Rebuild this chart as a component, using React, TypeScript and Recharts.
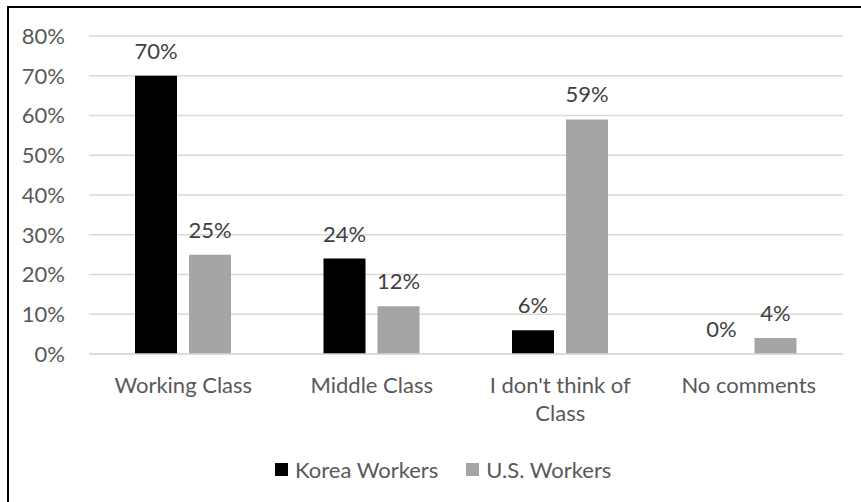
import React from 'react';
import { BarChart, Bar, XAxis, YAxis, CartesianGrid, LabelList } from 'recharts';

const categories = ['Working Class', 'Middle Class', "I don't think of Class", 'No comments'];
// how each category label wraps under the axis
const categoryLines = [['Working Class'], ['Middle Class'], ["I don't think of", 'Class'], ['No comments']];
const koreaWorkers = [70, 24, 6, 0];
const usWorkers = [25, 12, 59, 4];
const yTicks = [0, 10, 20, 30, 40, 50, 60, 70, 80];
const seriesNames = ['Korea Workers', 'U.S. Workers'];
const seriesColors = ['#000000', '#A5A5A5'];

const data = categories.map((category, i) => ({
    category,
    korea: koreaWorkers[i],
    us: usWorkers[i],
}));

const FONT = 'Lato, "Noto Sans", sans-serif';
const FS = 22;
const AXIS_TEXT = '#595959';

const CategoryTick = (props: any) => {
    const { x, y, payload } = props;
    const idx = categories.indexOf(payload.value);
    const lines = idx >= 0 ? categoryLines[idx] : [payload.value];
    return (
        <text x={x} y={y} textAnchor="middle" fill={AXIS_TEXT} style={{ fontFamily: FONT, fontSize: FS }}>
            {lines.map((line, i) => (
                <tspan key={i} x={x} dy={i === 0 ? 0 : 28}>
                    {line}
                </tspan>
            ))}
        </text>
    );
};

const App = () => {
    return (
        <div style={{ position: 'absolute', left: 0, top: 0, width: 861, height: 502, overflow: 'hidden', background: '#fff' }}>
            <div style={{ position: 'absolute', left: 7, top: 6, width: 900, height: 540, border: '2px solid #000', boxSizing: 'border-box' }} />
            <div style={{ position: 'absolute', left: 0, top: 0 }}>
                <BarChart
                    width={861}
                    height={502}
                    data={data}
                    margin={{ top: 36, right: 18, left: 9, bottom: 118 }}
                    barSize={42}
                    barGap={12}
                >
                    <CartesianGrid vertical={false} stroke="#D9D9D9" strokeWidth={1.5} />
                    <XAxis
                        dataKey="category"
                        height={30}
                        axisLine={{ stroke: '#D9D9D9', strokeWidth: 1.5 }}
                        tickLine={false}
                        tickMargin={33}
                        interval={0}
                        tick={<CategoryTick />}
                    />
                    <YAxis
                        width={80}
                        domain={[0, 80]}
                        ticks={yTicks}
                        axisLine={false}
                        tickLine={false}
                        tickMargin={18}
                        tickFormatter={(v) => `${v}%`}
                        tick={{ fill: AXIS_TEXT, fontFamily: FONT, fontSize: FS }}
                    />
                    <Bar dataKey="korea" name={seriesNames[0]} fill={seriesColors[0]} minPointSize={0.01} isAnimationActive={false}>
                        <LabelList
                            dataKey="korea"
                            position="top"
                            offset={17}
                            formatter={(v: any) => `${v}%`}
                            style={{ fill: '#404040', fontFamily: FONT, fontSize: FS }}
                        />
                    </Bar>
                    <Bar dataKey="us" name={seriesNames[1]} fill={seriesColors[1]} isAnimationActive={false}>
                        <LabelList
                            dataKey="us"
                            position="top"
                            offset={17}
                            formatter={(v: any) => `${v}%`}
                            style={{ fill: '#404040', fontFamily: FONT, fontSize: FS }}
                        />
                    </Bar>
                </BarChart>
            </div>
            <div
                style={{
                    position: 'absolute',
                    left: 275,
                    top: 455,
                    height: 28,
                    display: 'flex',
                    alignItems: 'center',
                    gap: 28,
                    fontFamily: FONT,
                    fontSize: FS,
                    color: AXIS_TEXT,
                }}
            >
                {seriesNames.map((name, i) => (
                    <div key={name} style={{ display: 'flex', alignItems: 'center' }}>
                        <span style={{ width: 13, height: 13, background: seriesColors[i], marginRight: 7, display: 'inline-block' }} />
                        <span>{name}</span>
                    </div>
                ))}
            </div>
        </div>
    );
};

export default App;
